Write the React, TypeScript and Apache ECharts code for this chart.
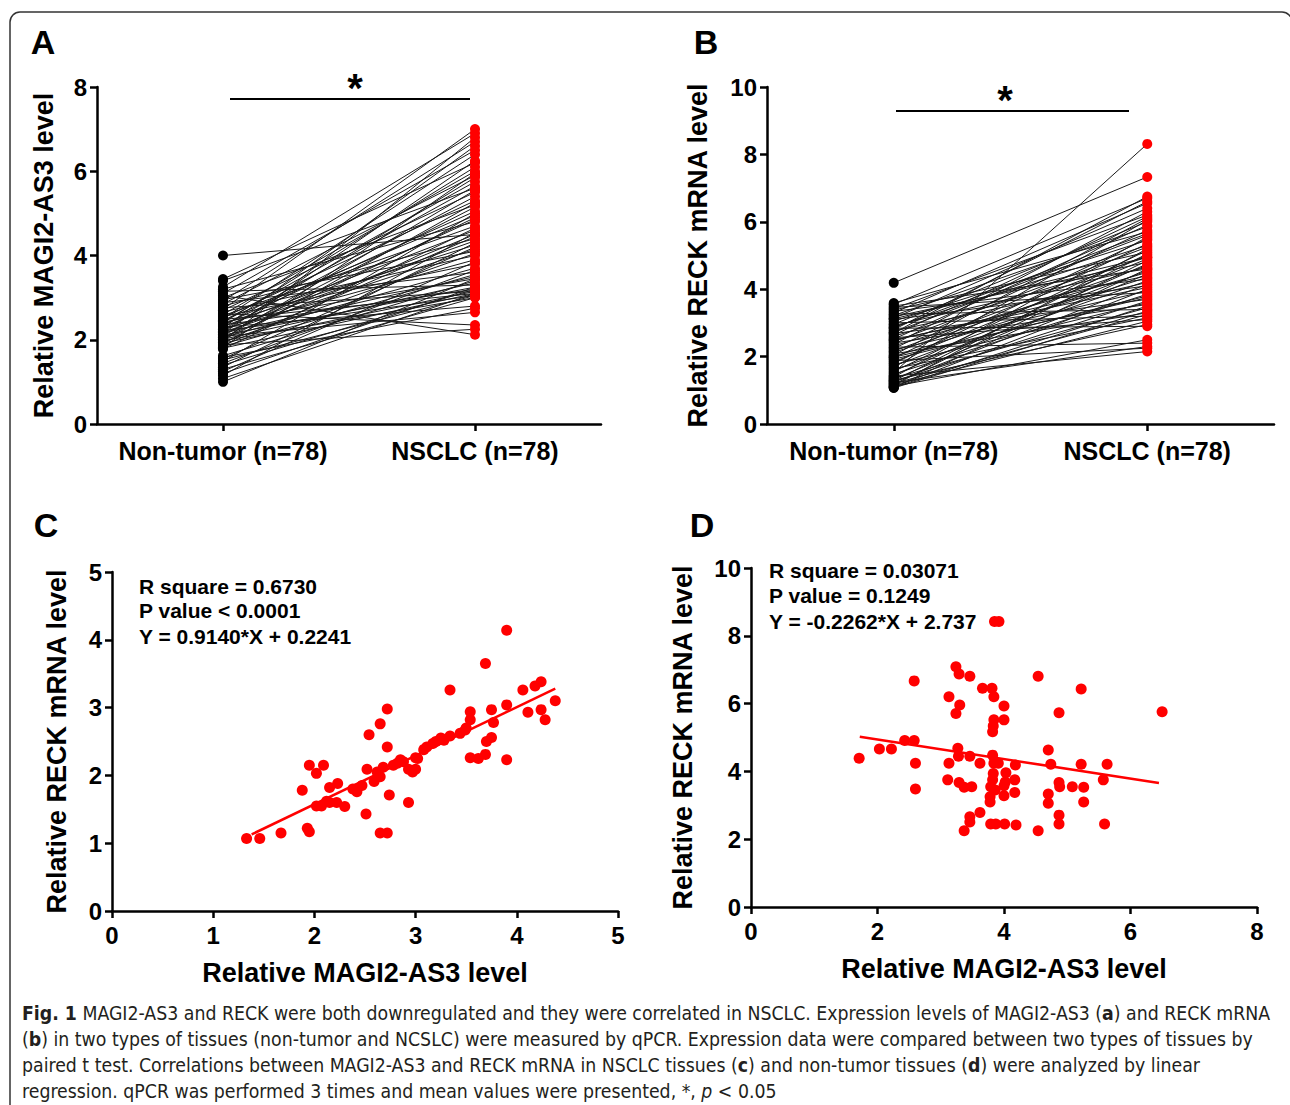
import React, { useEffect, useRef } from "react";
import * as echarts from "echarts";

const FONT = "'Liberation Sans', Arial, Helvetica, sans-serif";
const CAP_FONT = "'Liberation Sans Narrow', 'DejaVu Sans Condensed', 'Liberation Sans', sans-serif";

const groupCats = ["Non-tumor (n=78)", "NSCLC (n=78)"];

// Panel A: MAGI2-AS3, paired (non-tumor, NSCLC)
const aNonTumor = [4.00, 3.44, 3.40, 3.25, 3.20, 3.15, 3.10, 3.05, 3.00, 2.95, 2.92, 2.88, 2.85, 2.80, 2.76, 2.72, 2.70, 2.66, 2.62, 2.60, 2.57, 2.55, 2.52, 2.50, 2.48, 2.46, 2.44, 2.42, 2.40, 2.38, 2.36, 2.35, 2.33, 2.31, 2.30, 2.28, 2.26, 2.25, 2.23, 2.21, 2.20, 2.18, 2.16, 2.15, 2.13, 2.11, 2.10, 2.08, 2.06, 2.05, 2.03, 2.01, 2.00, 1.98, 1.96, 1.94, 1.92, 1.90, 1.88, 1.86, 1.84, 1.82, 1.80, 1.78, 1.62, 1.58, 1.55, 1.52, 1.48, 1.44, 1.40, 1.35, 1.30, 1.25, 1.20, 1.15, 1.08, 1.00];
const aNSCLC = [4.50, 6.20, 5.60, 6.90, 4.80, 3.30, 6.50, 2.12, 5.20, 4.10, 6.70, 3.60, 5.90, 4.40, 3.15, 7.00, 5.50, 4.00, 2.35, 6.00, 4.70, 3.80, 5.30, 6.40, 3.10, 4.95, 5.75, 3.45, 6.10, 4.25, 5.05, 3.20, 5.65, 4.60, 2.80, 6.60, 3.90, 5.40, 4.35, 3.05, 5.85, 4.15, 3.50, 6.25, 4.85, 3.25, 5.15, 2.65, 4.50, 3.70, 5.55, 3.35, 4.90, 3.00, 6.80, 4.05, 3.15, 5.25, 2.25, 4.45, 3.55, 5.95, 3.10, 4.65, 3.40, 2.75, 4.20, 3.05, 5.00, 3.65, 3.20, 4.30, 3.00, 3.85, 3.25, 4.55, 3.10, 3.45];

// Panel B: RECK mRNA, paired (non-tumor, NSCLC)
const bNonTumor = [4.19, 3.59, 3.55, 3.50, 3.46, 3.42, 3.38, 3.34, 3.30, 3.26, 3.22, 3.18, 3.14, 3.10, 3.05, 3.00, 2.96, 2.92, 2.88, 2.84, 2.80, 2.76, 2.72, 2.68, 2.64, 2.60, 2.56, 2.52, 2.48, 2.44, 2.40, 2.36, 2.32, 2.28, 2.24, 2.20, 2.16, 2.12, 2.08, 2.04, 2.00, 1.96, 1.92, 1.88, 1.84, 1.80, 1.76, 1.72, 1.68, 1.64, 1.60, 1.56, 1.52, 1.48, 1.45, 1.42, 1.39, 1.36, 1.33, 1.30, 1.28, 1.26, 1.24, 1.22, 1.20, 1.18, 1.16, 1.14, 1.12, 1.10, 1.09, 1.08, 1.07, 2.50, 2.86, 3.12, 1.98, 2.70];
const bNSCLC = [7.33, 5.70, 6.70, 4.60, 3.90, 6.20, 5.10, 4.30, 6.55, 3.40, 5.85, 4.80, 6.40, 4.10, 5.45, 3.20, 6.00, 4.65, 5.30, 2.90, 6.60, 4.40, 5.60, 3.70, 6.15, 4.95, 3.10, 5.90, 4.20, 5.25, 3.55, 6.30, 4.50, 2.40, 5.75, 3.95, 5.00, 4.70, 3.30, 6.10, 4.35, 5.50, 3.80, 2.25, 4.90, 5.35, 3.60, 4.55, 6.05, 3.15, 4.25, 5.15, 8.31, 3.85, 4.75, 2.15, 5.55, 3.45, 4.45, 2.95, 5.05, 3.65, 4.15, 2.30, 3.25, 4.85, 3.05, 5.20, 2.50, 4.00, 3.50, 4.60, 3.35, 4.05, 5.65, 4.95, 3.75, 6.75];

// Panel C: NSCLC tissues correlation
const cMAGI = [1.33, 1.46, 1.67, 1.88, 1.93, 1.95, 1.95, 2.02, 2.09, 2.02, 2.07, 2.15, 2.23, 2.15, 2.22, 2.30, 2.42, 2.52, 2.51, 2.54, 2.59, 2.65, 2.65, 2.72, 2.72, 2.65, 2.72, 2.74, 2.78, 2.85, 2.93, 2.93, 3.00, 3.00, 3.11, 3.17, 3.25, 3.34, 3.34, 3.49, 3.54, 3.54, 3.54, 3.62, 3.69, 3.69, 3.70, 3.75, 3.75, 3.77, 3.90, 3.90, 3.90, 4.06, 4.11, 4.18, 4.24, 4.24, 4.28, 4.38, 2.38, 2.62, 2.82, 2.97, 3.08, 3.20, 3.28, 3.44, 3.50, 2.47, 2.12, 2.68, 2.88, 3.02];
const cRECK = [1.07, 1.07, 1.15, 1.78, 1.22, 1.17, 2.15, 2.03, 2.15, 1.55, 1.55, 1.82, 1.88, 1.60, 1.60, 1.54, 1.76, 2.09, 1.43, 2.60, 1.91, 1.98, 2.76, 2.98, 2.42, 1.15, 1.15, 1.71, 2.15, 2.23, 1.60, 2.09, 2.09, 2.26, 2.42, 2.47, 2.55, 2.58, 3.26, 2.67, 2.94, 2.82, 2.26, 2.25, 2.31, 3.65, 2.50, 2.56, 2.97, 2.78, 4.14, 3.04, 2.23, 3.26, 2.93, 3.32, 3.38, 2.97, 2.82, 3.10, 1.80, 2.05, 2.18, 2.05, 2.38, 2.50, 2.52, 2.62, 2.70, 1.85, 1.62, 2.12, 2.20, 2.25];
const cFitX = [1.38, 4.38];
const cFitY = [1.13, 3.28];

// Panel D: non-tumor tissues correlation
const dMAGI = [3.85, 3.92, 1.71, 2.03, 2.22, 2.43, 2.58, 2.58, 2.60, 2.60, 3.13, 3.24, 3.29, 3.46, 3.30, 3.24, 3.27, 3.28, 3.13, 3.11, 3.29, 3.37, 3.49, 3.46, 3.62, 3.66, 3.81, 3.84, 4.00, 4.00, 3.84, 3.83, 3.82, 3.82, 3.84, 3.91, 3.83, 3.82, 3.79, 3.78, 3.78, 4.03, 4.18, 4.17, 4.00, 4.17, 4.00, 3.62, 3.46, 3.46, 3.37, 3.79, 3.87, 4.01, 4.19, 4.54, 4.54, 4.70, 4.74, 4.70, 4.70, 4.87, 4.87, 4.88, 4.87, 4.87, 5.08, 5.22, 5.22, 5.26, 5.26, 5.57, 5.63, 5.59, 6.50, 4.02, 3.86];
const dRECK = [8.42, 8.42, 4.39, 4.66, 4.66, 4.91, 4.91, 6.67, 4.24, 3.48, 6.20, 7.09, 6.87, 6.81, 5.96, 5.71, 4.68, 4.45, 4.24, 3.75, 3.67, 3.53, 3.55, 4.45, 4.24, 6.45, 6.45, 6.20, 5.93, 5.52, 5.52, 5.34, 5.17, 4.48, 4.24, 4.24, 3.94, 3.75, 3.55, 3.25, 3.10, 3.96, 4.19, 3.75, 3.58, 3.38, 3.28, 2.79, 2.66, 2.51, 2.25, 2.45, 2.45, 2.45, 2.42, 6.81, 2.25, 4.63, 4.21, 3.33, 3.06, 5.73, 3.67, 3.55, 2.71, 2.45, 3.55, 6.43, 4.21, 3.53, 3.10, 3.75, 4.21, 2.45, 5.76, 3.69, 3.45];
const dFitX = [1.72, 6.45];
const dFitY = [5.02, 3.66];

const statsC = ["R square = 0.6730", "P value < 0.0001", "Y = 0.9140*X + 0.2241"];
const statsD = ["R square = 0.03071", "P value = 0.1249", "Y = -0.2262*X + 2.737"];

const captionLines = [
  "{b|Fig. 1} MAGI2-AS3 and RECK were both downregulated and they were correlated in NSCLC. Expression levels of MAGI2-AS3 ({b|a}) and RECK mRNA",
  "({b|b}) in two types of tissues (non-tumor and NCSLC) were measured by qPCR. Expression data were compared between two types of tissues by",
  "paired t test. Correlations between MAGI2-AS3 and RECK mRNA in NSCLC tissues ({b|c}) and non-tumor tissues ({b|d}) were analyzed by linear",
  "regression. qPCR was performed 3 times and mean values were presented, *, {i|p} < 0.05",
];

const RED = "#ff0000";

function axisBase() {
  return {
    axisLine: { show: true, onZero: false, lineStyle: { color: "#000", width: 2.5 } },
    axisTick: { show: true, length: 7, lineStyle: { color: "#000", width: 2.5 } },
    axisLabel: { color: "#000", fontWeight: "bold", fontSize: 24, fontFamily: FONT },
    splitLine: { show: false },
    nameTextStyle: { color: "#000", fontWeight: "bold", fontSize: 27, fontFamily: FONT },
  };
}

function buildOption() {
  const series: any[] = [];
  const pairs = (non: number[], nsc: number[], idx: number) => {
    non.forEach((v, i) => {
      series.push({
        type: "line",
        xAxisIndex: idx,
        yAxisIndex: idx,
        data: [v, nsc[i]],
        symbol: "none",
        silent: true,
        z: 2,
        lineStyle: { color: "#1a1a1a", width: 1 },
      });
    });
    series.push({
      type: "scatter",
      xAxisIndex: idx,
      yAxisIndex: idx,
      symbolSize: 10,
      z: 3,
      itemStyle: { color: "#000", opacity: 1 },
      data: non.map((v) => [0, v]),
    });
    series.push({
      type: "scatter",
      xAxisIndex: idx,
      yAxisIndex: idx,
      symbolSize: 10,
      z: 3,
      itemStyle: { color: RED, opacity: 1 },
      data: nsc.map((v) => [1, v]),
    });
  };
  pairs(aNonTumor, aNSCLC, 0);
  pairs(bNonTumor, bNSCLC, 1);

  series.push({
    type: "scatter",
    xAxisIndex: 2,
    yAxisIndex: 2,
    symbolSize: 11,
    itemStyle: { color: RED, opacity: 1 },
    data: cMAGI.map((x, i) => [x, cRECK[i]]),
  });
  series.push({
    type: "line",
    xAxisIndex: 2,
    yAxisIndex: 2,
    symbol: "none",
    lineStyle: { color: RED, width: 2.5 },
    data: cFitX.map((x, i) => [x, cFitY[i]]),
  });
  series.push({
    type: "scatter",
    xAxisIndex: 3,
    yAxisIndex: 3,
    symbolSize: 11,
    itemStyle: { color: RED, opacity: 1 },
    data: dMAGI.map((x, i) => [x, dRECK[i]]),
  });
  series.push({
    type: "line",
    xAxisIndex: 3,
    yAxisIndex: 3,
    symbol: "none",
    lineStyle: { color: RED, width: 2.5 },
    data: dFitX.map((x, i) => [x, dFitY[i]]),
  });

  const catAxis = (gi: number) => ({
    ...axisBase(),
    type: "category",
    gridIndex: gi,
    data: groupCats,
    boundaryGap: true,
    axisTick: { show: true, alignWithLabel: true, interval: 0, length: 7, lineStyle: { color: "#000", width: 2.5 } },
    axisLabel: { color: "#000", fontWeight: "bold", fontSize: 25, fontFamily: FONT, margin: 14, interval: 0 },
  });

  const valAxisY = (gi: number, max: number, interval: number, name: string, gap: number) => ({
    ...axisBase(),
    type: "value",
    gridIndex: gi,
    min: 0,
    max,
    interval,
    name,
    nameLocation: "middle",
    nameRotate: 90,
    nameGap: gap,
    axisLabel: { color: "#000", fontWeight: "bold", fontSize: 24, fontFamily: FONT, margin: 10 },
  });

  const valAxisX = (gi: number, max: number, interval: number, name: string) => ({
    ...axisBase(),
    type: "value",
    gridIndex: gi,
    min: 0,
    max,
    interval,
    name,
    nameLocation: "middle",
    nameGap: 48,
    axisLabel: { color: "#000", fontWeight: "bold", fontSize: 24, fontFamily: FONT, margin: 12 },
  });

  const letter = (t: string, x: number, y: number) => ({
    type: "text",
    x,
    y,
    style: { text: t, fontSize: 34, fontWeight: "bold", fontFamily: FONT, fill: "#000", textAlign: "center", textVerticalAlign: "middle" },
  });

  const statText = (lines: string[], x: number, ys: number[]) =>
    lines.map((t, i) => ({
      type: "text",
      x,
      y: ys[i],
      style: { text: t, fontSize: 21, fontWeight: "bold", fontFamily: FONT, fill: "#000", textAlign: "left", textVerticalAlign: "middle" },
    }));

  const graphic: any[] = [
    {
      type: "rect",
      shape: { x: 10, y: 12, width: 1282, height: 1120, r: 10 },
      style: { fill: "none", stroke: "#333", lineWidth: 1.5 },
      silent: true,
    },
    letter("A", 43, 42),
    letter("B", 706, 42),
    letter("C", 46, 525),
    letter("D", 702, 525),
    { type: "line", shape: { x1: 230, y1: 99, x2: 470, y2: 99 }, style: { stroke: "#000", lineWidth: 2 } },
    { type: "text", x: 355, y: 88, style: { text: "*", fontSize: 40, fontWeight: "bold", fontFamily: FONT, fill: "#000", textAlign: "center", textVerticalAlign: "middle" } },
    { type: "line", shape: { x1: 896, y1: 111, x2: 1129, y2: 111 }, style: { stroke: "#000", lineWidth: 2 } },
    { type: "text", x: 1005, y: 100, style: { text: "*", fontSize: 40, fontWeight: "bold", fontFamily: FONT, fill: "#000", textAlign: "center", textVerticalAlign: "middle" } },
    ...statText(statsC, 139, [586, 610, 636]),
    ...statText(statsD, 769, [570, 595, 621]),
    ...captionLines.map((t, i) => ({
      type: "text",
      x: 22,
      y: 1013 + i * 26,
      style: {
        text: t,
        fontSize: 19.3,
        fontFamily: CAP_FONT,
        fill: "#231f20",
        textAlign: "left",
        textVerticalAlign: "middle",
        rich: {
          b: { fontWeight: "bold", fontSize: 19.3, fontFamily: CAP_FONT, fill: "#231f20" },
          i: { fontStyle: "italic", fontSize: 19.3, fontFamily: CAP_FONT, fill: "#231f20" },
        },
      },
    })),
  ];

  return {
    animation: false,
    backgroundColor: "#fff",
    grid: [
      { left: 97, top: 87, width: 504, height: 337 },
      { left: 767, top: 87, width: 507, height: 337 },
      { left: 112, top: 572, width: 506, height: 339 },
      { left: 751, top: 568, width: 506, height: 339 },
    ],
    xAxis: [
      catAxis(0),
      catAxis(1),
      valAxisX(2, 5, 1, "Relative MAGI2-AS3 level"),
      valAxisX(3, 8, 2, "Relative MAGI2-AS3 level"),
    ],
    yAxis: [
      valAxisY(0, 8, 2, "Relative MAGI2-AS3 level", 40),
      valAxisY(1, 10, 2, "Relative RECK mRNA level", 56),
      valAxisY(2, 5, 1, "Relative RECK mRNA level", 42),
      valAxisY(3, 10, 2, "Relative RECK mRNA level", 55),
    ],
    series,
    graphic,
  };
}

export default function App() {
  const ref = useRef<HTMLDivElement>(null);
  useEffect(() => {
    if (!ref.current) return;
    const chart = echarts.init(ref.current, null, { renderer: "svg" });
    chart.setOption(buildOption() as any);
    return () => chart.dispose();
  }, []);
  return (
    <div
      ref={ref}
      style={{ position: "absolute", left: 0, top: 0, width: 1290, height: 1105, background: "#fff" }}
    />
  );
}
